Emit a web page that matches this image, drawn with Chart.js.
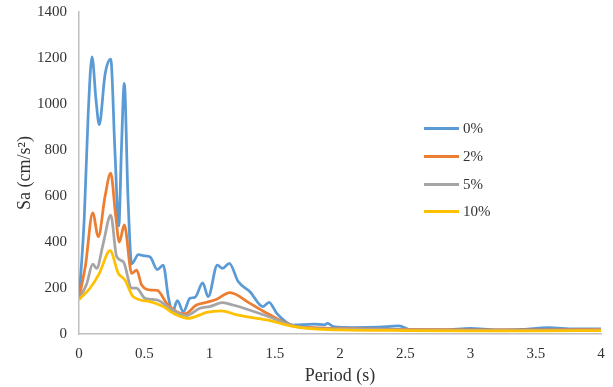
<!DOCTYPE html>
<html><head><meta charset="utf-8">
<script src="https://cdn.jsdelivr.net/npm/chart.js"></script>
<style>
html,body{margin:0;padding:0;background:#fff;}
#wrap{position:relative;width:613px;height:387px;}
#legend{position:absolute;left:424px;top:115px;font-family:"Liberation Serif","Times New Roman",serif;font-size:15px;color:#333;}
#legend .it{display:flex;align-items:center;height:27.7px;}
#legend .ln{width:35px;height:3px;margin-right:4px;}
</style>
</head><body>
<div id="wrap"><canvas id="c" width="613" height="387"></canvas><div id="legend"></div></div>
<script>
const seriesLabels = ["0%", "2%", "5%", "10%"];
const seriesColors = ["#5B9BD5", "#ED7D31", "#A5A5A5", "#FFC000"];
const xTicks = [0, 0.5, 1, 1.5, 2, 2.5, 3, 3.5, 4];
const yTicks = [0, 200, 400, 600, 800, 1000, 1200, 1400];

const period0 = [0,0.04,0.07,0.1,0.13,0.155,0.2,0.243,0.275,0.305,0.325,0.347,0.375,0.404,0.455,0.5,0.545,0.6,0.645,0.685,0.718,0.753,0.8,0.85,0.89,0.948,0.99,1.06,1.1,1.152,1.22,1.31,1.41,1.456,1.515,1.64,1.8,1.88,1.905,1.95,2.1,2.3,2.45,2.55,2.8,3.0,3.2,3.4,3.6,3.8,4];
const sa0 = [150,500,950,1205,1020,910,1130,1195,800,470,800,1090,600,305,345,340,335,280,300,160,97,145,97,155,160,222,162,300,285,307,228,184,119,138,90,39,43,40,46,32,28,30,35,18,18,25,18,20,28,22,22];

const period2 = [0,0.05,0.105,0.148,0.2,0.243,0.28,0.309,0.347,0.404,0.442,0.48,0.557,0.6,0.672,0.748,0.81,0.9,0.98,1.05,1.157,1.31,1.44,1.64,1.8,2,2.5,3,3.5,4];
const sa2 = [155,300,527,423,600,699,520,400,474,264,278,213,191,190,133,97,87,126,138,150,180,133,90,36,28,24,20,18,18,20];

const period5 = [0,0.06,0.105,0.135,0.186,0.243,0.289,0.34,0.404,0.44,0.506,0.595,0.697,0.825,0.927,1.0,1.1,1.18,1.44,1.64,1.8,2,2.5,3,3.5,4];
const sa5 = [150,220,304,285,394,517,336,314,199,200,155,148,112,80,112,119,136,126,78,35,25,22,18,16,16,18];

const period10 = [0,0.084,0.156,0.238,0.301,0.352,0.416,0.544,0.646,0.723,0.838,0.927,0.978,1.09,1.21,1.44,1.64,1.8,2,2.5,3,3.5,4];
const sa10 = [150,199,264,362,264,235,162,141,119,90,68,83,94,101,83,61,33,22,18,15,14,14,15];

const periods = [period0, period2, period5, period10];
const values = [sa0, sa2, sa5, sa10];

const datasets = seriesLabels.map((lab, i) => ({
  label: lab,
  data: periods[i].map((p, j) => ({x: p, y: values[i][j]})),
  borderColor: seriesColors[i],
  backgroundColor: seriesColors[i],
  borderWidth: 2.75,
  pointRadius: 0,
  fill: false,
  cubicInterpolationMode: 'monotone'
})).reverse();

const font = {family: "'Liberation Serif','Times New Roman',serif", size: 15};
new Chart(document.getElementById('c'), {
  type: 'line',
  data: {datasets},
  options: {
    responsive: false,
    animation: false,
    layout: {padding: {top: 0, right: 0, bottom: 0, left: 14}},
    plugins: {legend: {display: false}, tooltip: {enabled: false}},
    scales: {
      x: {
        type: 'linear', min: 0, max: 4,
        grid: {display: false, drawTicks: false},
        border: {display: true, color: '#BFBFBF', width: 1.5},
        afterBuildTicks: s => { s.ticks = xTicks.map(v => ({value: v})); },
        ticks: {font, color: '#333', padding: 11, maxRotation: 0, callback: v => String(v)},
        title: {display: true, text: 'Period (s)', font: {family: font.family, size: 18}, color: '#333', padding: {top: 8, bottom: 0}},
        afterFit: s => { s.height = 53; s.paddingLeft = 0; s.paddingRight = 12; }
      },
      y: {
        min: 0, max: 1400,
        grid: {display: false, drawTicks: false},
        border: {display: true, color: '#BFBFBF', width: 1.5},
        afterBuildTicks: s => { s.ticks = yTicks.map(v => ({value: v})); },
        ticks: {font, color: '#333', padding: 12, callback: v => String(v)},
        title: {display: true, text: 'Sa (cm/s²)', font: {family: font.family, size: 18}, color: '#333', padding: {top: 0, bottom: 4}},
        afterFit: s => { s.width = 65; s.paddingTop = 12; s.paddingBottom = 0; }
      }
    }
  }
});

const lg = document.getElementById('legend');
seriesLabels.forEach((lab, i) => {
  const d = document.createElement('div'); d.className = 'it';
  const l = document.createElement('div'); l.className = 'ln'; l.style.background = seriesColors[i];
  const t = document.createElement('span'); t.textContent = lab;
  d.appendChild(l); d.appendChild(t); lg.appendChild(d);
});
</script>
</body></html>
